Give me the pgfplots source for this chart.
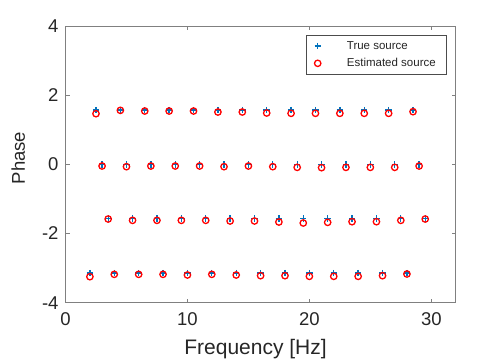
\documentclass[border=0pt]{standalone}
\usepackage{fontspec}
\setmainfont{Liberation Sans}
\usepackage{pgfplots}
\pgfplotsset{compat=1.18}
\definecolor{mblue}{rgb}{0,0.447,0.741}
\definecolor{axgray}{gray}{0.5}
\definecolor{txt}{gray}{0.15}
\begin{document}
\begin{tikzpicture}
\useasboundingbox (0,0) rectangle (504pt,360pt);
\begin{axis}[
  at={(65.5pt,57.3pt)}, anchor=south west,
  scale only axis, width=390.2pt, height=276.7pt,
  xmin=0, xmax=32, ymin=-4, ymax=4,
  xtick={0,10,20,30}, ytick={-4,-2,0,2,4},
  tick align=inside,
  axis line style={draw=axgray, line width=0.6pt},
  every tick/.style={draw=axgray, line width=0.6pt},
  major tick length=4pt,
  /pgf/number format/assume math mode=true,
  tick label style={font=\fontsize{18.5}{22}\selectfont, text=txt},
  xticklabel style={yshift=-6pt},
  yticklabel style={xshift=-3.5pt},
  xlabel={Frequency [Hz]}, ylabel={Phase},
  xlabel style={font=\fontsize{21}{25}\selectfont, text=txt, at={(axis description cs:0.487,-0.1854)}, anchor=base},
  ylabel style={font=\fontsize{18.5}{22}\selectfont, text=txt, at={(axis description cs:-0.1038,0.523)}, anchor=base},
  legend style={at={(0.975,0.9657)}, anchor=north east, draw=black!70, line width=0.4pt,
    font=\fontsize{11.5}{14}\selectfont, text=txt, inner xsep=8pt, inner ysep=3.6pt,
    nodes={inner sep=2pt}, row sep=3.7pt, column sep=24pt,
    cells={anchor=west}},
  legend cell align=left,
]
\addplot[only marks, mark=+, mark size=3.2pt, mark options={draw=mblue, line width=1.3pt}] coordinates {
(2,-3.1416)(2.5,1.5708)(3,0)(3.5,-1.5708)(4,-3.1416)(4.5,1.5708)(5,0)(5.5,-1.5708)
(6,-3.1416)(6.5,1.5708)(7,0)(7.5,-1.5708)(8,-3.1416)(8.5,1.5708)(9,0)(9.5,-1.5708)
(10,-3.1416)(10.5,1.5708)(11,0)(11.5,-1.5708)(12,-3.1416)(12.5,1.5708)(13,0)(13.5,-1.5708)
(14,-3.1416)(14.5,1.5708)(15,0)(15.5,-1.5708)(16,-3.1416)(16.5,1.5708)(17,0)(17.5,-1.5708)
(18,-3.1416)(18.5,1.5708)(19,0)(19.5,-1.5708)(20,-3.1416)(20.5,1.5708)(21,0)(21.5,-1.5708)
(22,-3.1416)(22.5,1.5708)(23,0)(23.5,-1.5708)(24,-3.1416)(24.5,1.5708)(25,0)(25.5,-1.5708)
(26,-3.1416)(26.5,1.5708)(27,0)(27.5,-1.5708)(28,-3.1416)(28.5,1.5708)(29,0)(29.5,-1.5708)
};
\addlegendentry{True source}
\addplot[only marks, mark=o, mark size=3.2pt, mark options={draw=red, line width=1.3pt}] coordinates {
(2,-3.248)(2.5,1.465)(3,-0.048)(3.5,-1.581)(4,-3.180)(4.5,1.561)(5,-0.067)(5.5,-1.619)
(6,-3.180)(6.5,1.542)(7,-0.048)(7.5,-1.619)(8,-3.180)(8.5,1.542)(9,-0.048)(9.5,-1.619)
(10,-3.199)(10.5,1.542)(11,-0.048)(11.5,-1.619)(12,-3.180)(12.5,1.513)(13,-0.067)(13.5,-1.638)
(14,-3.199)(14.5,1.513)(15,-0.048)(15.5,-1.638)(16,-3.219)(16.5,1.484)(17,-0.067)(17.5,-1.667)
(18,-3.219)(18.5,1.475)(19,-0.087)(19.5,-1.696)(20,-3.238)(20.5,1.475)(21,-0.096)(21.5,-1.677)
(22,-3.238)(22.5,1.475)(23,-0.087)(23.5,-1.658)(24,-3.238)(24.5,1.475)(25,-0.087)(25.5,-1.658)
(26,-3.219)(26.5,1.475)(27,-0.087)(27.5,-1.619)(28,-3.170)(28.5,1.523)(29,-0.048)(29.5,-1.581)
};
\addlegendentry{Estimated source}
\end{axis}
\end{tikzpicture}
\end{document}
